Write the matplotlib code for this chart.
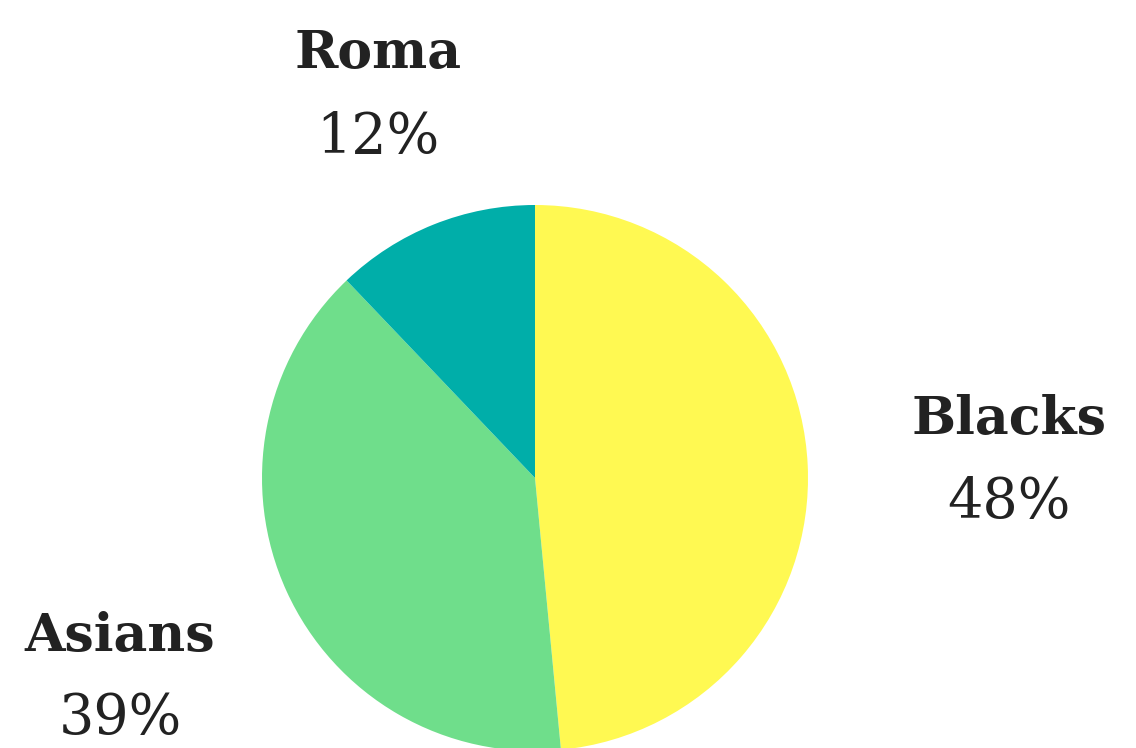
import matplotlib
matplotlib.use("Agg")
import matplotlib.pyplot as plt

# Share of each group (percent)
groups = ["Blacks", "Asians", "Roma"]
shares = [48, 39, 12]
colors = ["#FFF952", "#6FDE8B", "#00AEA9"]

W, H = 1136, 748
fig = plt.figure(figsize=(W / 100, H / 100), dpi=100)
ax = fig.add_axes([0, 0, 1, 1])

cx, cy, r = 535, H - 478, 273
ax.pie(shares, colors=colors, startangle=90, counterclock=False,
       center=(cx, cy), radius=r, frame=True,
       wedgeprops=dict(linewidth=0))
ax.set_xlim(0, W)
ax.set_ylim(0, H)
ax.set_aspect("equal")
ax.axis("off")

# Label anchors: (x centre, name baseline, value baseline) in pixels from top
label_pos = {
    "Blacks": (1009, 434, 518),
    "Asians": (120, 651, 734),
    "Roma": (378, 68, 153),
}
txt_color = "#222222"
for name, val in zip(groups, shares):
    x, yn, yv = label_pos[name]
    ax.text(x, H - yn, name, ha="center", va="baseline", fontsize=37.5,
            fontweight="bold", family="DejaVu Serif", color=txt_color)
    ax.text(x, H - yv, f"{val}%", ha="center", va="baseline", fontsize=40,
            family="DejaVu Serif", color=txt_color)

fig.savefig("out.png", dpi=100)
